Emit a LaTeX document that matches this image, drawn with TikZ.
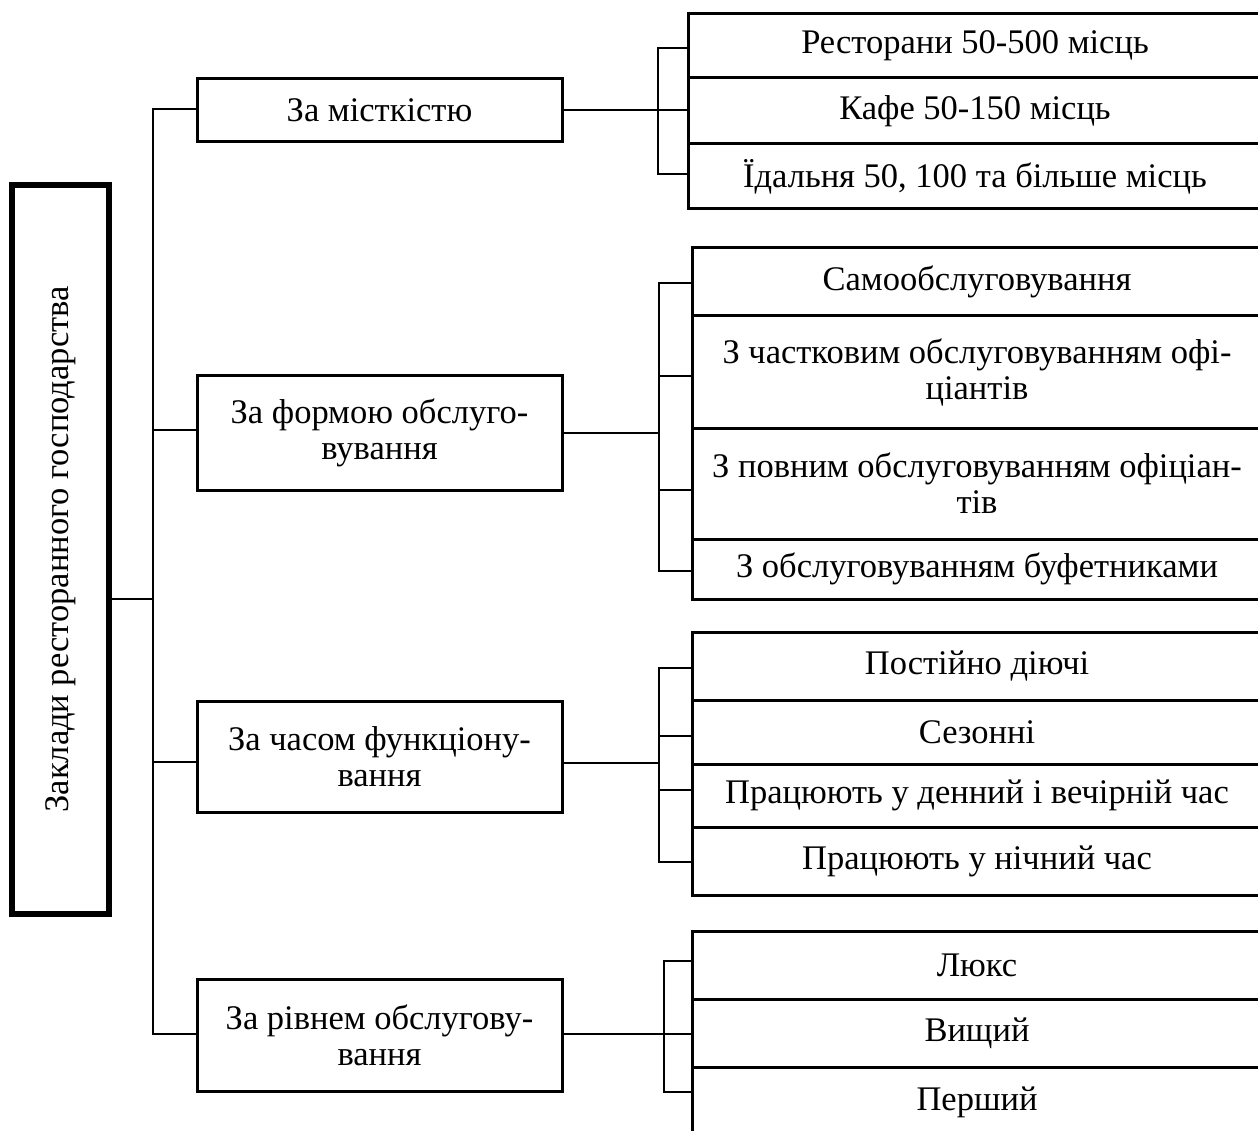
\documentclass[tikz,border=0pt]{standalone}
\usepackage{fontspec}
\setmainfont{Liberation Serif}
\begin{document}
\begin{tikzpicture}[x=1pt,y=-1pt,
  every node/.style={font=\fontsize{34.5}{36}\selectfont, inner sep=0pt, outer sep=0pt},
  lnk/.style={line width=2.9pt, line cap=rect},
  mid/.style={draw, line width=3pt, minimum width=365pt, align=center},
  rowA/.style={draw, line width=3pt, minimum width=574pt, align=center},
  rowB/.style={draw, line width=3pt, minimum width=570pt, align=center},
  root/.style={draw, line width=6pt, minimum width=97pt, minimum height=729pt}]
\useasboundingbox (0,0) rectangle (1258,1131);
% root
\node[root] (L) at (60.5,549.5) {};
\node[rotate=90] (Lt) at (L.center) {Заклади ресторанного господарства};
% middle boxes
\node[mid, minimum height=63pt] (m1) at (379.5,110.5) {За місткістю};
\node[mid, minimum height=114pt] (m2) at (379.5,433) {За формою обслуго-\\вування};
\node[mid, minimum height=111pt] (m3) at (379.5,756.5) {За часом функціону-\\вання};
\node[mid, minimum height=112pt] (m4) at (379.5,1035) {За рівнем обслугову-\\вання};
% group 1
\node[rowA, minimum height=64pt] (r11) at (975,46) {Ресторани 50-500 місць};
\node[rowA, minimum height=66pt] (r12) at (975,111) {Кафе 50-150 місць};
\node[rowA, minimum height=65pt] (r13) at (975,176.5) {Їдальня 50, 100 та більше місць};
% group 2
\node[rowB, minimum height=68pt] (r21) at (977,282) {Самообслуговування};
\node[rowB, minimum height=112pt] (r22) at (977,372) {З частковим обслуговуванням офі-\\ціантів};
\node[rowB, minimum height=111pt] (r23) at (977,483.5) {З повним обслуговуванням офіціан-\\тів};
\node[rowB, minimum height=60pt] (r24) at (977,569) {З обслуговуванням буфетниками};
% group 3
\node[rowB, minimum height=68pt] (r31) at (977,666) {Постійно діючі};
\node[rowB, minimum height=64pt] (r32) at (977,732) {Сезонні};
\node[rowB, minimum height=63pt] (r33) at (977,795.5) {Працюють у денний і вечірній час};
\node[rowB, minimum height=68pt] (r34) at (977,861) {Працюють у нічний час};
% group 4
\node[rowB, minimum height=68pt] (r41) at (977,965) {Люкс};
\node[rowB, minimum height=68pt] (r42) at (977,1033) {Вищий};
\node[rowB, minimum height=70pt] (r43) at (977,1102) {Перший};
% trunk
\coordinate (tt) at (153,109);
\coordinate (t2) at (153,430);
\coordinate (t3) at (153,762);
\coordinate (tb) at (153,1034);
\coordinate (t0) at (153,599);
\draw[lnk] (L.east |- t0) -- (t0);
\draw[lnk] (tt) -- (tb);
\draw[lnk] (tt) -- (m1.west |- tt);
\draw[lnk] (t2) -- (m2.west |- t2);
\draw[lnk] (t3) -- (m3.west |- t3);
\draw[lnk] (tb) -- (m4.west |- tb);
% bracket 1
\coordinate (b1) at (658,110);
\coordinate (b1t) at (658,48);
\coordinate (b1b) at (658,174);
\draw[lnk] (m1.east |- b1) -- (b1);
\draw[lnk] (b1t) -- (b1b);
\draw[lnk] (b1t) -- (r11.west |- b1t);
\draw[lnk] (b1) -- (r12.west |- b1);
\draw[lnk] (b1b) -- (r13.west |- b1b);
% bracket 2
\coordinate (b2) at (659,433);
\coordinate (b2t) at (659,283);
\coordinate (b2a) at (659,376);
\coordinate (b2c) at (659,490);
\coordinate (b2b) at (659,571);
\draw[lnk] (m2.east |- b2) -- (b2);
\draw[lnk] (b2t) -- (b2b);
\draw[lnk] (b2t) -- (r21.west |- b2t);
\draw[lnk] (b2a) -- (r22.west |- b2a);
\draw[lnk] (b2c) -- (r23.west |- b2c);
\draw[lnk] (b2b) -- (r24.west |- b2b);
% bracket 3
\coordinate (b3) at (659,763);
\coordinate (b3t) at (659,668);
\coordinate (b3a) at (659,736);
\coordinate (b3c) at (659,790);
\coordinate (b3b) at (659,862);
\draw[lnk] (m3.east |- b3) -- (b3);
\draw[lnk] (b3t) -- (b3b);
\draw[lnk] (b3t) -- (r31.west |- b3t);
\draw[lnk] (b3a) -- (r32.west |- b3a);
\draw[lnk] (b3c) -- (r33.west |- b3c);
\draw[lnk] (b3b) -- (r34.west |- b3b);
% bracket 4
\coordinate (b4) at (664,1034);
\coordinate (b4t) at (664,961);
\coordinate (b4b) at (664,1092);
\draw[lnk] (m4.east |- b4) -- (b4);
\draw[lnk] (b4t) -- (b4b);
\draw[lnk] (b4t) -- (r41.west |- b4t);
\draw[lnk] (b4) -- (r42.west |- b4);
\draw[lnk] (b4b) -- (r43.west |- b4b);
\end{tikzpicture}
\end{document}
